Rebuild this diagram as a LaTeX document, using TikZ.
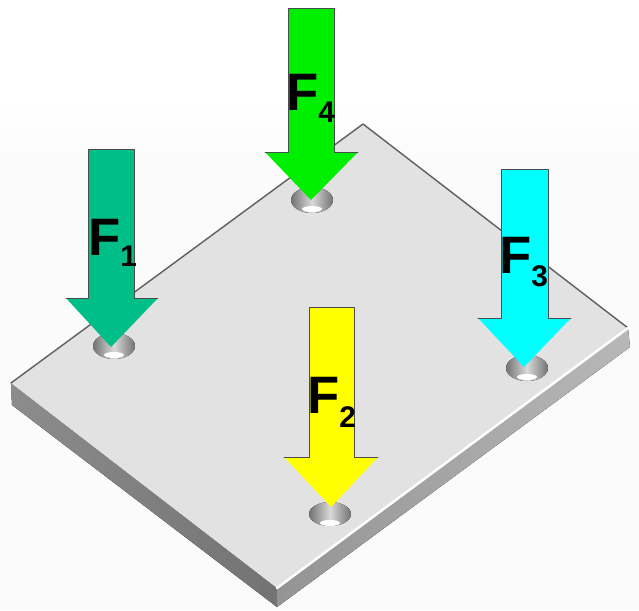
\documentclass[tikz,border=0pt]{standalone}
\usepackage{fontspec}
\setmainfont{Liberation Sans}
\definecolor{plateTop}{RGB}{226,226,226}
\definecolor{plateEdge}{RGB}{95,95,95}
\definecolor{forceOne}{RGB}{0,190,135}
\definecolor{forceTwo}{RGB}{255,255,0}
\definecolor{forceThree}{RGB}{0,255,255}
\definecolor{forceFour}{RGB}{0,238,0}
\tikzset{
  forceline/.style={draw=black!70,line width=0.5pt},
  forcename/.style={font=\fontsize{30}{30}\bfseries\selectfont,inner sep=0pt,anchor=base west},
  forceindex/.style={font=\fontsize{17}{17}\bfseries\selectfont,inner sep=0pt,anchor=base west},
  hole/.style={left color=black!55,right color=black!55,middle color=black!15}
}
\begin{document}
\begin{tikzpicture}[line cap=round,line join=round,x=0.02cm,y=-0.02cm]
        \useasboundingbox (0,0) rectangle (639,610);
        \fill[top color=white,bottom color=black!1.5] (0,100) rectangle (639,160);
        \fill[color=black!1.5] (0,160) rectangle (639,610);
        % plate
        \fill[left color=black!45,right color=black!55] (11,383) -- (277,588) -- (277,607) -- (12,405) -- cycle;
        \fill[left color=black!42,right color=black!28] (277,588) -- (628,328) -- (630,347) -- (277,607) -- cycle;
        \fill[color=plateTop] (11,383) -- (363,124) -- (628,328) -- (277,588) -- cycle;
        \draw[color=plateEdge,line width=0.8pt] (11,383) -- (363,124) -- (628,328);
        \draw[color=white,line width=1.4pt] (277,588) -- (628,328);
        % holes
        \fill[hole] (114,346) ellipse (21 and 13);
        \fill[white] (114,355) ellipse (10 and 3);
        \fill[hole] (312,200) ellipse (21 and 13);
        \fill[white] (312,209) ellipse (10 and 3);
        \fill[hole] (527,368) ellipse (21 and 13);
        \fill[white] (527,377) ellipse (10 and 3);
        \fill[hole] (330,514) ellipse (21 and 12);
        \fill[white] (330,523) ellipse (10 and 3);
        % forces
        \fill[forceOne] (88,149) -- (134,149) -- (134,298) -- (158,298) -- (111,347) -- (66,298) -- (88,298) -- cycle;
        \draw[forceline] (66,298) -- (88,298) -- (88,149) -- (134,149) -- (134,298) -- (158,298);
        \fill[forceTwo] (309,307) -- (354,307) -- (354,457) -- (378,457) -- (331,507) -- (284,457) -- (309,457) -- cycle;
        \draw[forceline] (284,457) -- (309,457) -- (309,307) -- (354,307) -- (354,457) -- (378,457);
        \fill[forceThree] (501,169) -- (548,169) -- (548,318) -- (571,318) -- (524,367) -- (478,318) -- (501,318) -- cycle;
        \draw[forceline] (478,318) -- (501,318) -- (501,169) -- (548,169) -- (548,318) -- (571,318);
        \fill[forceFour] (288,8) -- (334,8) -- (334,152) -- (358,152) -- (311,200) -- (265,152) -- (288,152) -- cycle;
        \draw[forceline] (265,152) -- (288,152) -- (288,8) -- (334,8) -- (334,152) -- (358,152);
        % labels
        \node[forcename] (nameOne) at (88,255) {F};
        \node[forceindex] (indexOne) at (120,266) {1};
        \node[forcename] (nameTwo) at (307,413) {F};
        \node[forceindex] (indexTwo) at (339,427) {2};
        \node[forcename] (nameThree) at (499,273) {F};
        \node[forceindex] (indexThree) at (531,286) {3};
        \node[forcename] (nameFour) at (286,110) {F};
        \node[forceindex] (indexFour) at (318,122) {4};
\end{tikzpicture}
\end{document}
